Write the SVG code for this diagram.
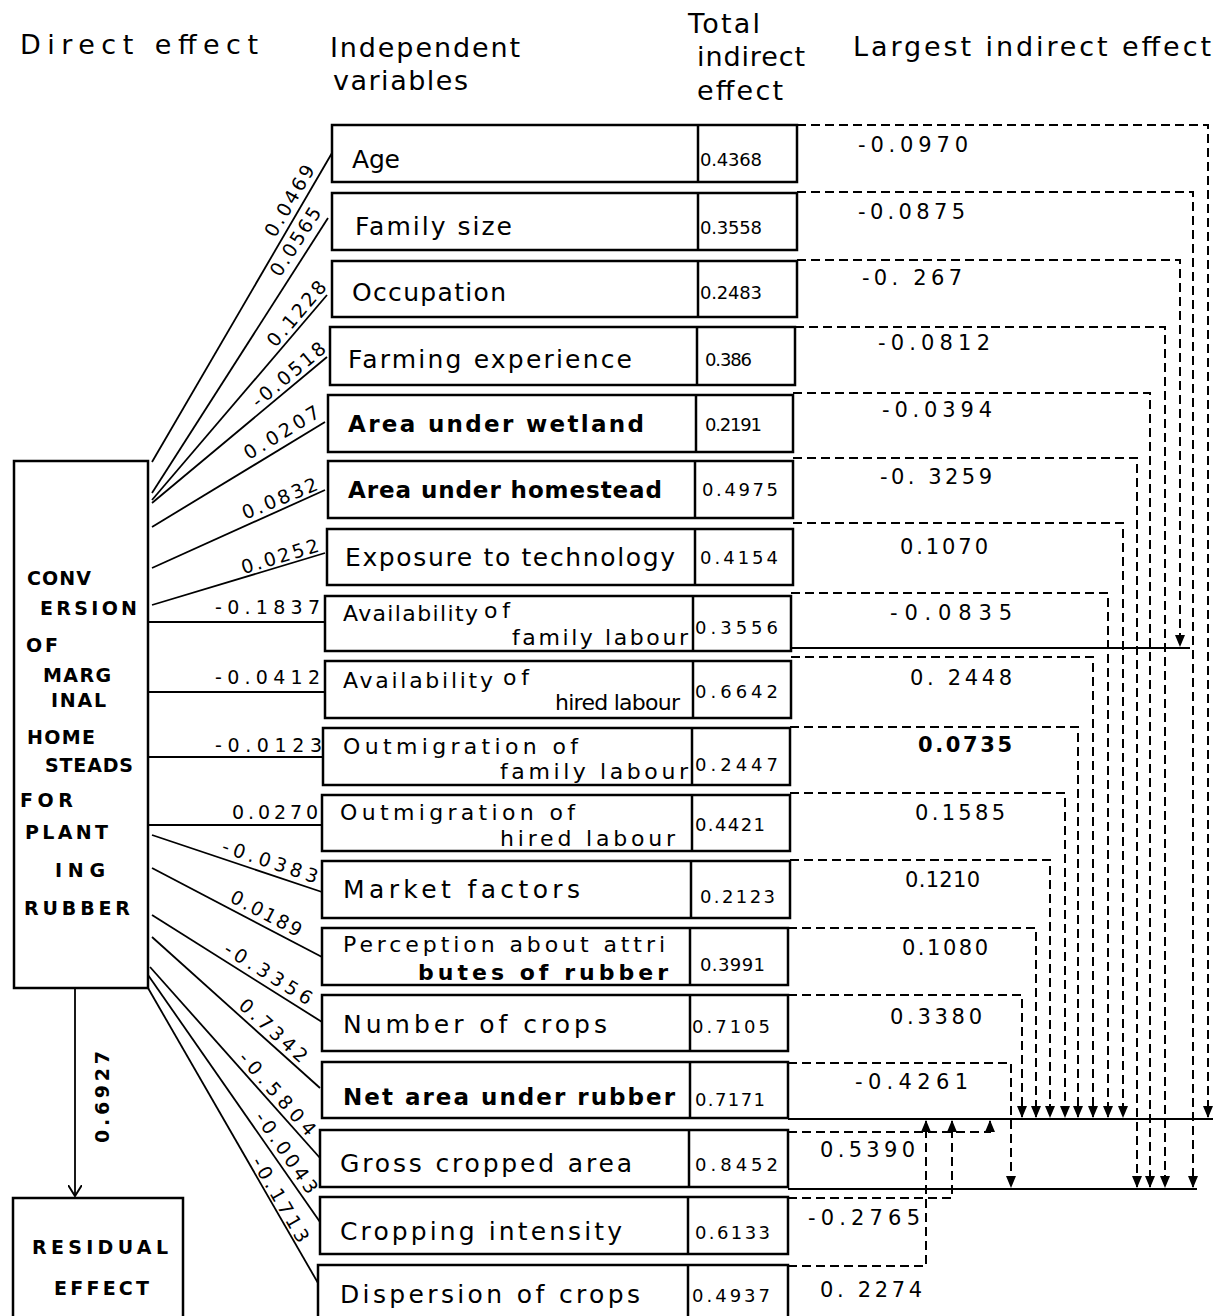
<svg xmlns="http://www.w3.org/2000/svg" width="1218" height="1316" viewBox="0 0 1218 1316">
<style>
.bg{fill:#fff}
.box{fill:none;stroke:#000;stroke-width:2.5}
.ln{fill:none;stroke:#000;stroke-width:1.8}
.sl{fill:none;stroke:#000;stroke-width:2.2}
.dash{fill:none;stroke:#000;stroke-width:2;stroke-dasharray:9 5}
.t{font-family:"DejaVu Sans","Liberation Sans",Arial,sans-serif;fill:#000}
.hd{font-size:27px}
.lb{font-size:25px}
.lb2{font-size:22px}
.lbb{font-size:23px;font-weight:bold}
.num{font-size:18px}
.dl{font-size:19px}
.big{font-size:21px}
.cap{font-size:19px;font-weight:bold}
</style>
<defs>
<marker id="ah" viewBox="0 0 12 10" refX="11" refY="5" markerWidth="12" markerHeight="10" markerUnits="userSpaceOnUse" orient="auto">
<path d="M0,0 L12,5 L0,10 z" fill="#000"/>
</marker>
<marker id="oa" viewBox="0 0 12 14" refX="11" refY="7" markerWidth="12" markerHeight="14" markerUnits="userSpaceOnUse" orient="auto">
<path d="M0,0 L11,7 L0,14" fill="none" stroke="#000" stroke-width="2"/>
</marker>
</defs>
<rect class="bg" x="0" y="0" width="1218" height="1316"/>

<g id="headers">
<text class="t hd" x="20" y="54" textLength="238">Direct effect</text>
<text class="t hd" x="330" y="57" textLength="190">Independent</text>
<text class="t hd" x="333" y="90" textLength="135">variables</text>
<text class="t hd" x="688" y="33" textLength="72">Total</text>
<text class="t hd" x="697" y="66" textLength="108">indirect</text>
<text class="t hd" x="697" y="100" textLength="86">effect</text>
<text class="t hd" x="853" y="56" textLength="358">Largest indirect effect</text>
</g>

<g id="connectors">
<path class="ln" d="M152,462 L332,153"/>
<path class="ln" d="M152,493 L328,218"/>
<path class="ln" d="M152,500 L327,295"/>
<path class="ln" d="M152,503 L327,357"/>
<path class="ln" d="M152,527 L325,422"/>
<path class="ln" d="M152,568 L325,490"/>
<path class="ln" d="M152,605 L325,553"/>
<path class="ln" d="M148,622 L325,622"/>
<path class="ln" d="M148,692 L325,692"/>
<path class="ln" d="M148,757 L323,757"/>
<path class="ln" d="M148,825 L322,825"/>
<path class="ln" d="M152,835 L322,892"/>
<path class="ln" d="M152,868 L322,957"/>
<path class="ln" d="M152,915 L322,1022"/>
<path class="ln" d="M152,937 L320,1088"/>
<path class="ln" d="M150,967 L320,1158"/>
<path class="ln" d="M148,975 L320,1222"/>
<path class="ln" d="M148,988 L318,1283"/>
<path class="ln" d="M75,988 L75,1196" marker-end="url(#oa)"/>
<path class="sl" d="M791,648 H1190"/>
<path class="sl" d="M788,1119 H1213"/>
<path class="sl" d="M788,1189 H1197"/>
<path class="dash" d="M797,125 H1208 V1117" marker-end="url(#ah)"/>
<path class="dash" d="M797,192 H1193 V1187" marker-end="url(#ah)"/>
<path class="dash" d="M797,260 H1180 V646" marker-end="url(#ah)"/>
<path class="dash" d="M795,327 H1165 V1187" marker-end="url(#ah)"/>
<path class="dash" d="M793,393 H1150 V1187" marker-end="url(#ah)"/>
<path class="dash" d="M793,458 H1137 V1187" marker-end="url(#ah)"/>
<path class="dash" d="M793,523 H1123 V1117" marker-end="url(#ah)"/>
<path class="dash" d="M791,593 H1108 V1117" marker-end="url(#ah)"/>
<path class="dash" d="M791,657 H1093 V1117" marker-end="url(#ah)"/>
<path class="dash" d="M790,727 H1078 V1117" marker-end="url(#ah)"/>
<path class="dash" d="M790,793 H1065 V1117" marker-end="url(#ah)"/>
<path class="dash" d="M790,860 H1050 V1117" marker-end="url(#ah)"/>
<path class="dash" d="M788,928 H1036 V1117" marker-end="url(#ah)"/>
<path class="dash" d="M788,995 H1022 V1117" marker-end="url(#ah)"/>
<path class="dash" d="M788,1063 H1011 V1187" marker-end="url(#ah)"/>
<path class="dash" d="M788,1132 H990 V1121" marker-end="url(#ah)"/>
<path class="dash" d="M788,1198 H952 V1121" marker-end="url(#ah)"/>
<path class="dash" d="M788,1266 H926 V1121" marker-end="url(#ah)"/>
</g>

<g id="direct-labels">
<text class="t dl" text-anchor="middle" textLength="80" transform="translate(290,201) rotate(-59.8)" y="6">0.0469</text>
<text class="t dl" text-anchor="middle" textLength="78" transform="translate(296,242) rotate(-57.4)" y="6">0.0565</text>
<text class="t dl" text-anchor="middle" textLength="80" transform="translate(297,314) rotate(-49.5)" y="6">0.1228</text>
<text class="t dl" text-anchor="middle" textLength="90" transform="translate(289,375) rotate(-39.8)" y="6">-0.0518</text>
<text class="t dl" text-anchor="middle" textLength="85" transform="translate(282,433) rotate(-31.3)" y="6">0.0207</text>
<text class="t dl" text-anchor="middle" textLength="80" transform="translate(280,499) rotate(-22.4)" y="6">0.0832</text>
<text class="t dl" text-anchor="middle" textLength="80" transform="translate(280,557) rotate(-16.7)" y="6">0.0252</text>
<text class="t dl" x="215" y="614" textLength="105">-0.1837</text>
<text class="t dl" x="215" y="684" textLength="105">-0.0412</text>
<text class="t dl" x="215" y="752" textLength="107">-0.0123</text>
<text class="t dl" x="232" y="819" textLength="86">0.0270</text>
<text class="t dl" text-anchor="middle" textLength="100" transform="translate(270,862) rotate(18.5)" y="6">-0.0383</text>
<text class="t dl" text-anchor="middle" textLength="78" transform="translate(266,914) rotate(27.6)" y="6">0.0189</text>
<text class="t dl" text-anchor="middle" textLength="100" transform="translate(268,974) rotate(32.2)" y="6">-0.3356</text>
<text class="t dl" text-anchor="middle" textLength="85" transform="translate(273,1031) rotate(42)" y="6">0.7342</text>
<text class="t dl" text-anchor="middle" textLength="105" transform="translate(277,1094) rotate(48.3)" y="6">-0.5804</text>
<text class="t dl" text-anchor="middle" textLength="95" transform="translate(286,1153) rotate(55.1)" y="6">-0.0043</text>
<text class="t dl" text-anchor="middle" textLength="95" transform="translate(280,1200) rotate(60)" y="6">-0.1713</text>
<text class="t dl" text-anchor="middle" textLength="92" font-weight="bold" transform="translate(102,1097) rotate(-90)" y="7">0.6927</text>
</g>

<g id="node-conversion">
<rect class="box" x="14" y="461" width="134" height="527"/>
<text class="t cap" x="27" y="585" textLength="64">CONV</text>
<text class="t cap" x="40" y="615" textLength="97">ERSION</text>
<text class="t cap" x="26" y="652" textLength="32">OF</text>
<text class="t cap" x="43" y="682" textLength="68">MARG</text>
<text class="t cap" x="51" y="707" textLength="55">INAL</text>
<text class="t cap" x="27" y="744" textLength="68">HOME</text>
<text class="t cap" x="45" y="772" textLength="88">STEADS</text>
<text class="t cap" x="20" y="807" textLength="53">FOR</text>
<text class="t cap" x="25" y="839" textLength="83">PLANT</text>
<text class="t cap" x="55" y="877" textLength="50">ING</text>
<text class="t cap" x="24" y="915" textLength="106">RUBBER</text>
</g>

<g id="node-residual">
<rect class="box" x="13" y="1198" width="170" height="130"/>
<text class="t cap" x="32" y="1254" textLength="136">RESIDUAL</text>
<text class="t cap" x="54" y="1295" textLength="95">EFFECT</text>
</g>

<g id="row-age">
<rect class="box" x="332" y="125" width="465" height="57"/><line class="box" x1="698" y1="125" x2="698" y2="182"/>
<text class="t lb" x="352" y="168" textLength="48">Age</text>
<text class="t num" x="700" y="166" textLength="62">0.4368</text>
<text class="t big" x="858" y="152" textLength="110">-0.0970</text>
</g>
<g id="row-family-size">
<rect class="box" x="332" y="193" width="465" height="57"/><line class="box" x1="698" y1="193" x2="698" y2="250"/>
<text class="t lb" x="355" y="235" textLength="157">Family size</text>
<text class="t num" x="700" y="234" textLength="62">0.3558</text>
<text class="t big" x="858" y="219" textLength="107">-0.0875</text>
</g>
<g id="row-occupation">
<rect class="box" x="332" y="261" width="465" height="56"/><line class="box" x1="698" y1="261" x2="698" y2="317"/>
<text class="t lb" x="352" y="301" textLength="154">Occupation</text>
<text class="t num" x="700" y="299" textLength="62">0.2483</text>
<text class="t big" x="862" y="285" textLength="100">-0. 267</text>
</g>
<g id="row-farming-experience">
<rect class="box" x="330" y="327" width="465" height="58"/><line class="box" x1="697" y1="327" x2="697" y2="385"/>
<text class="t lb" x="348" y="368" textLength="284">Farming experience</text>
<text class="t num" x="705" y="366" textLength="47">0.386</text>
<text class="t big" x="878" y="350" textLength="112">-0.0812</text>
</g>
<g id="row-area-wetland">
<rect class="box" x="328" y="395" width="465" height="57"/><line class="box" x1="696" y1="395" x2="696" y2="452"/>
<text class="t lbb" x="348" y="432" textLength="296">Area under wetland</text>
<text class="t num" x="705" y="431" textLength="57">0.2191</text>
<text class="t big" x="882" y="417" textLength="110">-0.0394</text>
</g>
<g id="row-area-homestead">
<rect class="box" x="328" y="461" width="465" height="57"/><line class="box" x1="695" y1="461" x2="695" y2="518"/>
<text class="t lbb" x="348" y="498" textLength="314">Area under homestead</text>
<text class="t num" x="702" y="496" textLength="76">0.4975</text>
<text class="t big" x="880" y="484" textLength="112">-0. 3259</text>
</g>
<g id="row-exposure">
<rect class="box" x="327" y="529" width="466" height="56"/><line class="box" x1="695" y1="529" x2="695" y2="585"/>
<text class="t lb" x="345" y="566" textLength="330">Exposure to technology</text>
<text class="t num" x="700" y="564" textLength="78">0.4154</text>
<text class="t big" x="900" y="554" textLength="88">0.1070</text>
</g>
<g id="row-avail-family">
<rect class="box" x="325" y="596" width="466" height="55"/><line class="box" x1="693" y1="596" x2="693" y2="651"/>
<text class="t lb2" x="343" y="621" textLength="135">Availability</text>
<text class="t lb2" x="484" y="618" textLength="26">of</text>
<text class="t lb2" x="512" y="645" textLength="176">family labour</text>
<text class="t num" x="695" y="634" textLength="83">0.3556</text>
<text class="t big" x="890" y="620" textLength="122">-0.0835</text>
</g>
<g id="row-avail-hired">
<rect class="box" x="325" y="661" width="466" height="57"/><line class="box" x1="693" y1="661" x2="693" y2="718"/>
<text class="t lb2" x="343" y="688" textLength="150">Availability</text>
<text class="t lb2" x="503" y="685" textLength="26">of</text>
<text class="t lb2" x="555" y="710" textLength="125">hired labour</text>
<text class="t num" x="695" y="698" textLength="83">0.6642</text>
<text class="t big" x="910" y="685" textLength="102">0. 2448</text>
</g>
<g id="row-outmig-family">
<rect class="box" x="323" y="728" width="467" height="57"/><line class="box" x1="692" y1="728" x2="692" y2="785"/>
<text class="t lb2" x="343" y="754" textLength="235">Outmigration of</text>
<text class="t lb2" x="500" y="779" textLength="188">family labour</text>
<text class="t num" x="695" y="771" textLength="83">0.2447</text>
<text class="t big" x="918" y="752" textLength="94" font-weight="bold">0.0735</text>
</g>
<g id="row-outmig-hired">
<rect class="box" x="322" y="795" width="468" height="56"/><line class="box" x1="692" y1="795" x2="692" y2="851"/>
<text class="t lb2" x="340" y="820" textLength="235">Outmigration of</text>
<text class="t lb2" x="500" y="846" textLength="175">hired labour</text>
<text class="t num" x="695" y="831" textLength="70">0.4421</text>
<text class="t big" x="915" y="820" textLength="90">0.1585</text>
</g>
<g id="row-market">
<rect class="box" x="322" y="861" width="468" height="57"/><line class="box" x1="691" y1="861" x2="691" y2="918"/>
<text class="t lb" x="343" y="898" textLength="237">Market factors</text>
<text class="t num" x="700" y="903" textLength="75">0.2123</text>
<text class="t big" x="905" y="887" textLength="75">0.1210</text>
</g>
<g id="row-perception">
<rect class="box" x="322" y="928" width="466" height="57"/><line class="box" x1="690" y1="928" x2="690" y2="985"/>
<text class="t lb2" x="343" y="952" textLength="322">Perception about attri</text>
<text class="t lb2" x="418" y="980" textLength="250" font-weight="bold">butes of rubber</text>
<text class="t num" x="700" y="971" textLength="65">0.3991</text>
<text class="t big" x="902" y="955" textLength="86">0.1080</text>
</g>
<g id="row-number-crops">
<rect class="box" x="322" y="995" width="466" height="56"/><line class="box" x1="690" y1="995" x2="690" y2="1051"/>
<text class="t lb" x="343" y="1033" textLength="264">Number of crops</text>
<text class="t num" x="692" y="1033" textLength="78">0.7105</text>
<text class="t big" x="890" y="1024" textLength="92">0.3380</text>
</g>
<g id="row-net-area">
<rect class="box" x="322" y="1062" width="466" height="56"/><line class="box" x1="690" y1="1062" x2="690" y2="1118"/>
<text class="t lbb" x="343" y="1105" textLength="332">Net area under rubber</text>
<text class="t num" x="695" y="1106" textLength="70">0.7171</text>
<text class="t big" x="855" y="1089" textLength="113">-0.4261</text>
</g>
<g id="row-gross-cropped">
<rect class="box" x="320" y="1130" width="468" height="57"/><line class="box" x1="689" y1="1130" x2="689" y2="1187"/>
<text class="t lb" x="340" y="1172" textLength="292">Gross cropped area</text>
<text class="t num" x="695" y="1171" textLength="83">0.8452</text>
<text class="t big" x="820" y="1157" textLength="95">0.5390</text>
</g>
<g id="row-cropping-intensity">
<rect class="box" x="320" y="1197" width="468" height="57"/><line class="box" x1="688" y1="1197" x2="688" y2="1254"/>
<text class="t lb" x="340" y="1240" textLength="282">Cropping intensity</text>
<text class="t num" x="695" y="1239" textLength="75">0.6133</text>
<text class="t big" x="808" y="1225" textLength="112">-0.2765</text>
</g>
<g id="row-dispersion">
<rect class="box" x="318" y="1265" width="470" height="60"/><line class="box" x1="688" y1="1265" x2="688" y2="1325"/>
<text class="t lb" x="340" y="1303" textLength="300">Dispersion of crops</text>
<text class="t num" x="692" y="1302" textLength="78">0.4937</text>
<text class="t big" x="820" y="1297" textLength="102">0. 2274</text>
</g>
</svg>
